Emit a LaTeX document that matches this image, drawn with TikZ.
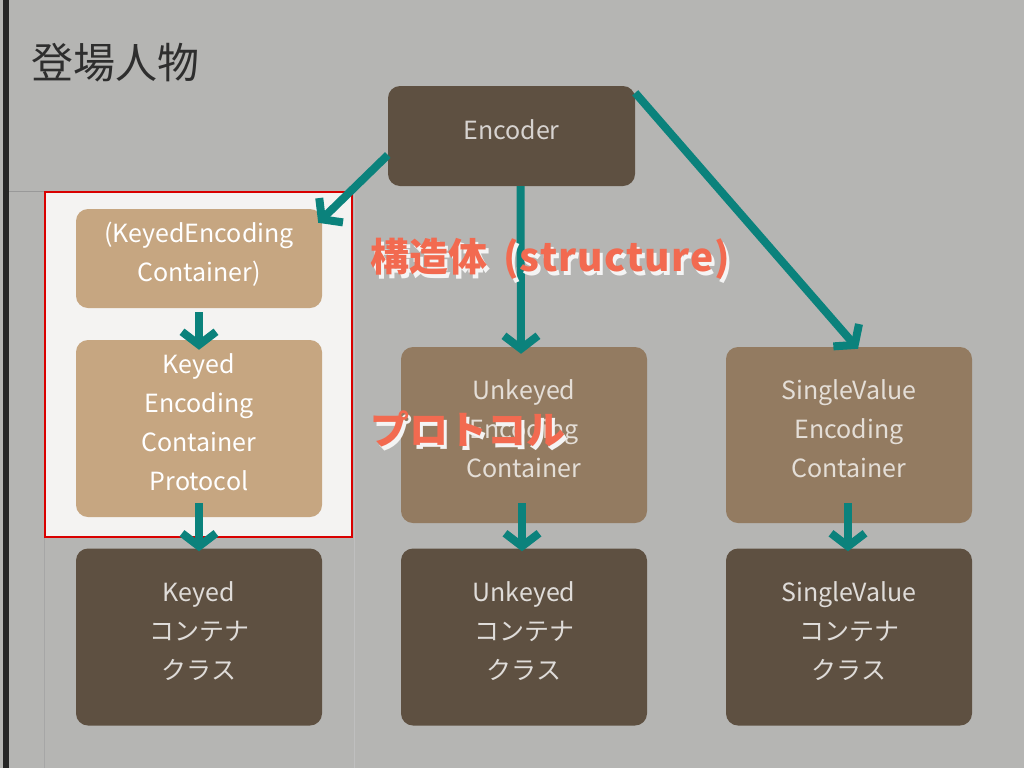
\documentclass[tikz,border=0pt]{standalone}
\usepackage{fontspec}
\setmainfont{Noto Sans CJK JP}
\usetikzlibrary{arrows.meta,positioning}
\definecolor{bgray}{HTML}{B5B5B3}
\definecolor{panel}{HTML}{F4F3F2}
\definecolor{darkbr}{HTML}{5E5041}
\definecolor{midbr}{HTML}{937B61}
\definecolor{tan}{HTML}{C6A681}
\definecolor{teal}{HTML}{0B827C}
\definecolor{coral}{HTML}{F26A50}
\tikzset{
  box/.style={rounded corners=12pt, minimum width=246pt, align=center,
    inner sep=0pt, text depth=10pt, font=\fontsize{25}{39}\selectfont},
  lines1/.style={text height=17pt},
  lines2/.style={text height=56pt},
  lines3/.style={text height=95pt},
  lines4/.style={text height=134pt},
  classbox/.style={box, lines3, fill=darkbr, text=white!80!darkbr, minimum height=177pt},
  protobox/.style={box, lines3, fill=midbr, text=white!75!midbr, minimum height=176pt},
  keybox/.style={box, fill=tan, text=white},
  arr/.style={draw=teal, line width=8pt, -{Straight Barb[length=13pt,width=34pt]}},
  note/.style={anchor=west, inner sep=0pt, text=coral, font=\fontsize{39}{39}\selectfont\bfseries},
  shade/.style={note, text=white!85!bgray}
}
\newcommand\structlabel{構造体 \hspace{7pt}{\addfontfeatures{LetterSpace=3}(structure)}}
\begin{document}
\begin{tikzpicture}[x=1pt,y=-1pt]
\fill[bgray] (0,0) rectangle (1024,768);
\fill[black!85] (3,0) rectangle (9,768);
\draw[black!40, line width=0.8pt] (9,191) -- (45,191);
\draw[black!35, line width=1pt] (44,191) -- (44,768);
\draw[black!25, line width=1pt] (354,191) -- (354,768);
\fill[panel] (45,192) rectangle (352,537);
\draw[red!85!black, line width=2.5pt] (45,192) rectangle (352,537);

\node (title) at (115,63) {\fontsize{42}{42}\selectfont\color{black!82}登場人物};

\node[box, lines1, fill=darkbr, text=white!75!darkbr, minimum height=100pt, minimum width=247pt] (enc) at (511.5,136) {Encoder};

\node[keybox, lines2, minimum height=99pt] (kec) at (199,258.5) {(KeyedEncoding\\Container)};
\node[keybox, lines4, minimum height=177pt] (kproto) at (199,428.5) {Keyed\\Encoding\\Container\\Protocol};
\node[protobox] (uproto) at (524,435) {Unkeyed\\Encoding\\Container};
\node[protobox] (sproto) at (849,435) {SingleValue\\Encoding\\Container};

\node[classbox] (kcls) at (199,637) {Keyed\\コンテナ\\クラス};
\node[classbox] (ucls) at (524,637) {Unkeyed\\コンテナ\\クラス};
\node[classbox] (scls) at (849,637) {SingleValue\\コンテナ\\クラス};

\draw[arr] ([yshift=-19pt]enc.west) -- ([xshift=-4pt,yshift=-14pt]kec.north east);
\draw[arr] ([xshift=9pt]enc.south) -- ([xshift=-3pt,yshift=-7pt]uproto.north);
\draw[arr] ([yshift=-7pt]enc.north east) -- ([xshift=9pt,yshift=-2pt]sproto.north);
\draw[arr] ([yshift=-4pt]kec.south) -- ([yshift=-10pt]kproto.north);
\draw[arr] ([yshift=14pt]kproto.south) -- ([yshift=-3pt]kcls.north);
\draw[arr] ([xshift=-2pt,yshift=20pt]uproto.south) -- ([xshift=-2pt,yshift=-3pt]ucls.north);
\draw[arr] ([xshift=-1pt,yshift=20pt]sproto.south) -- ([xshift=-1pt,yshift=-3pt]scls.north);

\node[shade] (s1) at (373,263) {\structlabel};
\node[note] (l1) at (370,259) {\structlabel};
\node[shade] (s2) at (373,433) {プロトコル};
\node[note] (l2) at (370,429) {プロトコル};
\end{tikzpicture}
\end{document}
